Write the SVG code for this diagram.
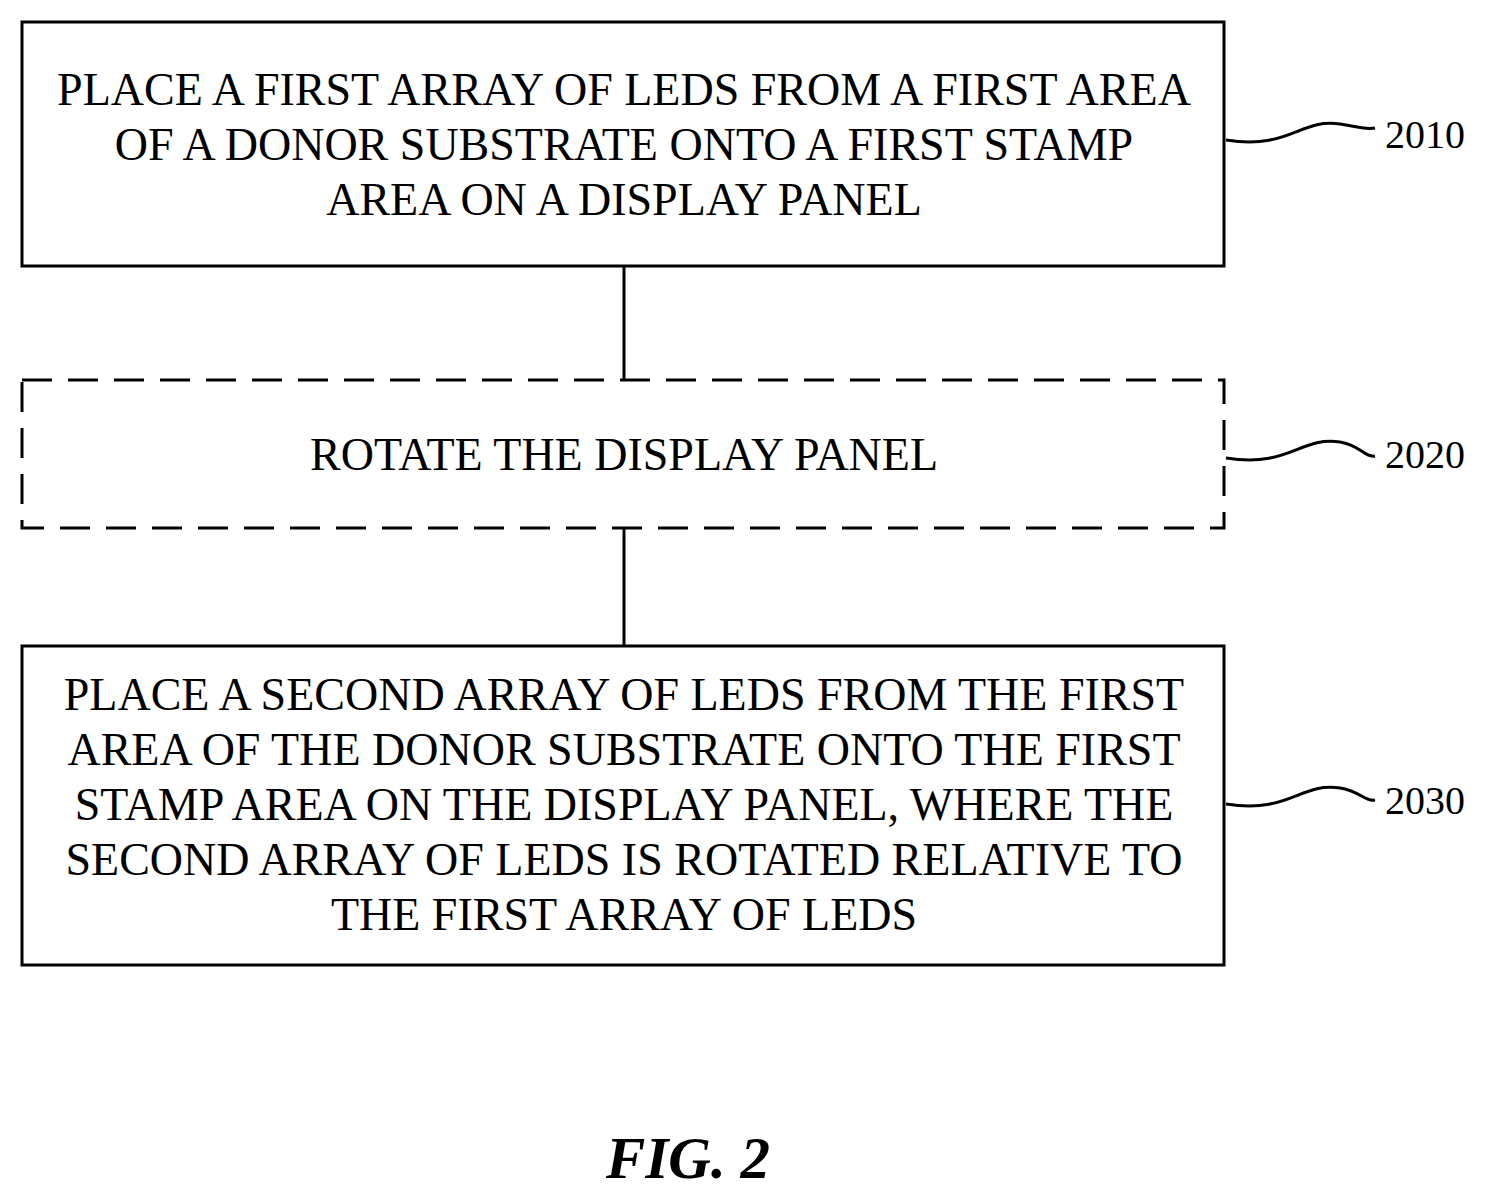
<svg xmlns="http://www.w3.org/2000/svg" width="1488" height="1198" viewBox="0 0 1488 1198">
<style>
.box{fill:#fff;stroke:#000;stroke-width:3}
.dash{stroke-dasharray:30 16}
.t{font-family:"Liberation Serif",serif;font-size:46px;text-anchor:middle}
.lbl{font-family:"Liberation Serif",serif;font-size:40px}
.ln{stroke:#000;stroke-width:3;fill:none}
</style>
<rect width="1488" height="1198" fill="#fff"/>
<g id="connectors">
<line class="ln" x1="624" y1="266" x2="624" y2="380"/>
<line class="ln" x1="624" y1="528" x2="624" y2="646"/>
<path class="ln" d="M1226,140 C1290,150 1300,118 1340,124 C1360,127 1365,130 1375,128"/>
<path class="ln" d="M1226,458 C1290,468 1300,436 1340,442 C1360,445 1365,458 1375,456"/>
<path class="ln" d="M1226,804 C1290,814 1300,782 1340,788 C1360,791 1365,802 1375,800"/>
</g>
<g id="n2010">
<rect class="box" x="22" y="22" width="1202" height="244"/>
<text class="t" x="624" y="105">PLACE A FIRST ARRAY OF LEDS FROM A FIRST AREA</text>
<text class="t" x="624" y="160">OF A DONOR SUBSTRATE ONTO A FIRST STAMP</text>
<text class="t" x="624" y="215">AREA ON A DISPLAY PANEL</text>
<text class="lbl" x="1385" y="148">2010</text>
</g>
<g id="n2020">
<rect class="box dash" x="22" y="380" width="1202" height="148"/>
<text class="t" x="624" y="470">ROTATE THE DISPLAY PANEL</text>
<text class="lbl" x="1385" y="468">2020</text>
</g>
<g id="n2030">
<rect class="box" x="22" y="646" width="1202" height="319"/>
<text class="t" x="624" y="710">PLACE A SECOND ARRAY OF LEDS FROM THE FIRST</text>
<text class="t" x="624" y="765">AREA OF THE DONOR SUBSTRATE ONTO THE FIRST</text>
<text class="t" x="624" y="820">STAMP AREA ON THE DISPLAY PANEL, WHERE THE</text>
<text class="t" x="624" y="875">SECOND ARRAY OF LEDS IS ROTATED RELATIVE TO</text>
<text class="t" x="624" y="930">THE FIRST ARRAY OF LEDS</text>
<text class="lbl" x="1385" y="814">2030</text>
</g>
<text x="688" y="1178" font-family="Liberation Serif,serif" font-size="59" font-weight="bold" font-style="italic" text-anchor="middle">FIG. 2</text>
</svg>
